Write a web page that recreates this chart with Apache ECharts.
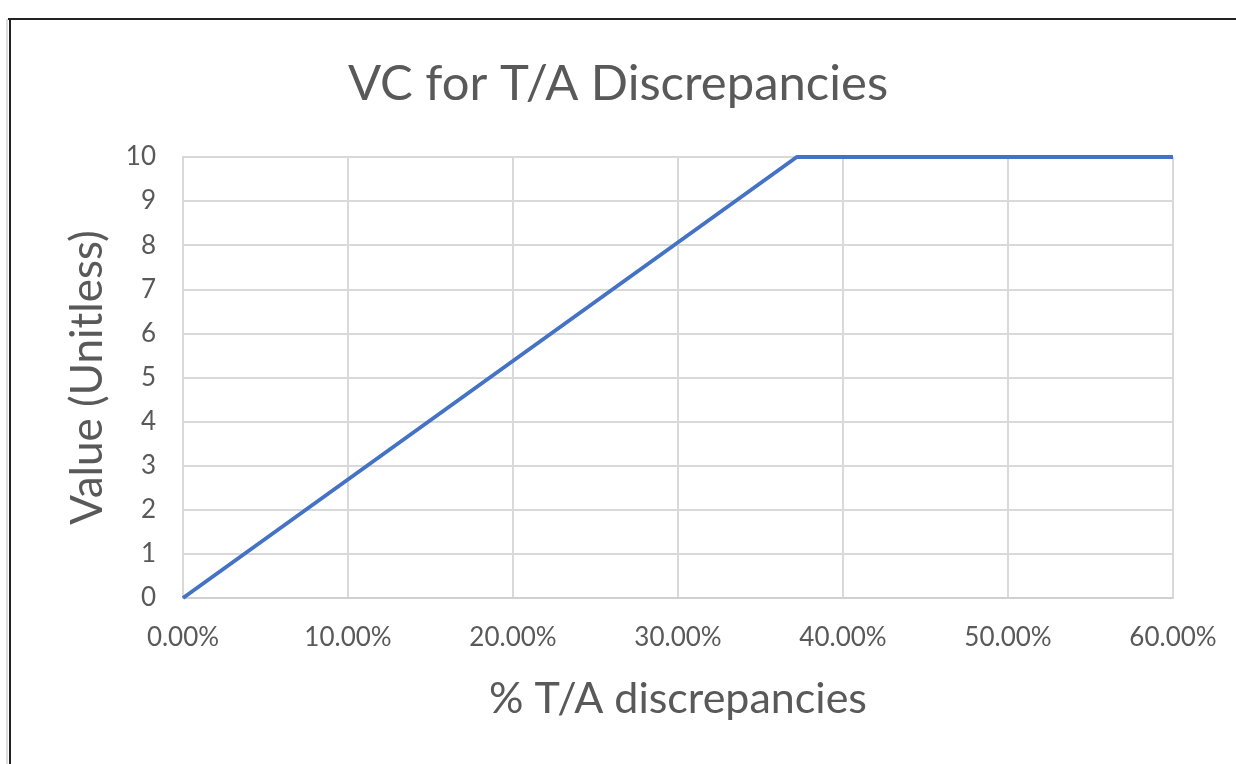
<!DOCTYPE html>
<html><head><meta charset="utf-8">
<script src="https://cdn.jsdelivr.net/npm/echarts@6/dist/echarts.min.js"></script>
<style>html,body{margin:0;padding:0;background:#fff}#c{width:1236px;height:764px}</style>
</head><body><div id="c"></div>
<script>
const xValues = [0, 0.372, 0.6];
const yValues = [0, 10, 10];
const xTicks = [0, 0.1, 0.2, 0.3, 0.4, 0.5, 0.6];
const yTicks = [0,1,2,3,4,5,6,7,8,9,10];
const title = 'VC for T/A Discrepancies';
const xName = '% T/A discrepancies';
const yName = 'Value (Unitless)';

const chart = echarts.init(document.getElementById('c'));
const font = 'Lato, "Open Sans", sans-serif';
chart.setOption({
  animation: false,
  title: {text: title, left: 'center', top: 55, textStyle: {fontFamily: font, fontSize: 49, fontWeight: 'normal', color: '#595959'}},
  grid: {left: 183, right: 63, top: 157, bottom: 166},
  graphic: [
    {type: 'line', shape: {x1: 8, y1: 19, x2: 1236, y2: 19}, style: {stroke: '#222', lineWidth: 2}},
    {type: 'line', shape: {x1: 10, y1: 19, x2: 10, y2: 764}, style: {stroke: '#222', lineWidth: 2}},
    {type: 'line', shape: {x1: 7, y1: 19, x2: 7, y2: 764}, style: {stroke: '#bbb', lineWidth: 1}}
  ],
  xAxis: {
    type: 'value', min: xTicks[0], max: xTicks[xTicks.length-1], interval: 0.1,
    name: xName, nameLocation: 'middle', nameGap: 80,
    nameTextStyle: {fontFamily: font, fontSize: 43, color: '#595959'},
    axisLine: {show: true, lineStyle: {color: '#d0d0d0', width: 2}},
    axisTick: {show: false},
    splitLine: {show: true, lineStyle: {color: '#d9d9d9', width: 2}},
    axisLabel: {fontFamily: font, fontSize: 26, color: '#595959', margin: 27,
      formatter: v => (v*100).toFixed(2) + '%'}
  },
  yAxis: {
    type: 'value', min: yTicks[0], max: yTicks[yTicks.length-1], interval: 1,
    name: yName, nameLocation: 'middle', nameGap: 73,
    nameTextStyle: {fontFamily: font, fontSize: 44, color: '#595959'},
    axisLine: {show: true, lineStyle: {color: '#d9d9d9', width: 2}},
    axisTick: {show: false},
    splitLine: {show: true, lineStyle: {color: '#d9d9d9', width: 2}},
    axisLabel: {fontFamily: font, fontSize: 26, color: '#595959', margin: 27}
  },
  series: [{
    type: 'line', data: xValues.map((x, i) => [x, yValues[i]]),
    showSymbol: false, lineStyle: {color: '#4472c4', width: 4}, clip: false
  }]
});
</script></body></html>
